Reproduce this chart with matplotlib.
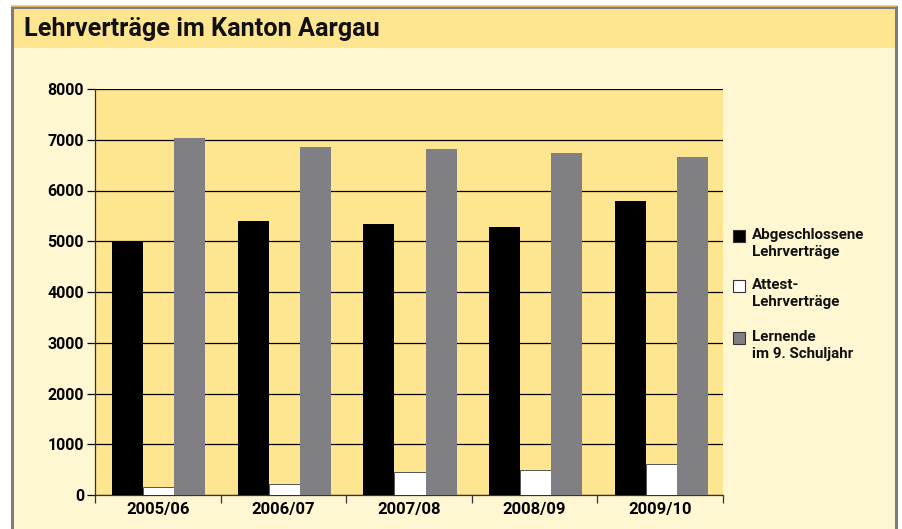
import matplotlib.pyplot as plt
import matplotlib.patches as mpatches
import numpy as np

plt.rcParams['font.family'] = ['Roboto', 'DejaVu Sans']
plt.rcParams['font.weight'] = 'bold'

# data
jahre = ["2005/06", "2006/07", "2007/08", "2008/09", "2009/10"]
abgeschlossen = [5000, 5400, 5340, 5280, 5790]
attest = [150, 210, 450, 490, 610]
lernende = [7030, 6860, 6820, 6740, 6660]

serien_namen = ["Abgeschlossene\nLehrverträge", "Attest-\nLehrverträge", "Lernende\nim 9. Schuljahr"]
farben = ["#000000", "#ffffff", "#808084"]

W, H = 902, 529
fig = plt.figure(figsize=(W / 100, H / 100), dpi=100)
fig.patch.set_facecolor("white")

def px(x, y, w, h):
    # pixel box (top-left origin) -> figure fraction
    return (x / W, 1 - (y + h) / H, w / W, h / H)

# frame: light background, yellow title band, grey border
fx, fy, fw, fh = px(12, 7, 884, 530)
fig.patches.append(mpatches.Rectangle((fx, fy), fw, fh, transform=fig.transFigure,
                                      facecolor="#fff6d2", edgecolor="none", zorder=0))
bx, by, bw, bh = px(12, 7, 884, 41)
fig.patches.append(mpatches.Rectangle((bx, by), bw, bh, transform=fig.transFigure,
                                      facecolor="#fee590", edgecolor="none", zorder=0))
fig.patches.append(mpatches.Rectangle((fx, fy), fw, fh, transform=fig.transFigure,
                                      facecolor="none", edgecolor="#7d7d7d", linewidth=2.2, zorder=1))
fig.add_artist(plt.Line2D([12 / W, 896 / W], [1 - 5.5 / H, 1 - 5.5 / H], transform=fig.transFigure,
                          color="#f3c35a", linewidth=1.2))

fig.text(24 / W, 1 - 29 / H, "Lehrverträge im Kanton Aargau", fontsize=18.2,
         fontweight="bold", va="center", ha="left", color="#111111", zorder=3)

ax = fig.add_axes(px(95, 89, 628, 406))
ax.set_zorder(2)
ax.set_facecolor("#fee690")

x = np.arange(len(jahre)) + 0.008
bw_ = 0.247
ax.bar(x - bw_, abgeschlossen, bw_, color=farben[0], zorder=3)
ax.bar(x, attest, bw_, color=farben[1], edgecolor="#555555", linewidth=0.7, zorder=3)
ax.bar(x + bw_, lernende, bw_, color=farben[2], zorder=3)

ax.set_xlim(-0.5, len(jahre) - 0.5)
ax.set_ylim(0, 8000)
ax.set_yticks(range(0, 8001, 1000))
ax.yaxis.grid(True, color="#000000", linewidth=0.9, zorder=1)
ax.set_axisbelow(True)

ax.set_xticks(np.arange(len(jahre)))
ax.set_xticklabels(jahre, fontsize=12, fontweight="bold")
ax.set_xticks(np.arange(len(jahre) + 1) - 0.5, minor=True)
ax.tick_params(axis="x", which="major", length=0, pad=5)
ax.tick_params(axis="x", which="minor", length=6, width=0.9, direction="out", color="#333333")
ax.tick_params(axis="y", length=6, width=0.9, direction="out", labelsize=11.5, pad=2)
for lbl in ax.get_yticklabels():
    lbl.set_fontweight("bold")

for s in ["top", "right"]:
    ax.spines[s].set_visible(False)
ax.spines["left"].set_color("#333333")
ax.spines["bottom"].set_color("#333333")
ax.spines["left"].set_linewidth(0.9)
ax.spines["bottom"].set_linewidth(0.9)

# legend drawn by hand to match layout
leg_y = [230, 280, 332]
for name, col, y in zip(serien_namen, farben, leg_y):
    rx, ry, rw, rh = px(733, y, 12, 12)
    fig.patches.append(mpatches.Rectangle((rx, ry), rw, rh, transform=fig.transFigure,
                                          facecolor=col, edgecolor="#333333", linewidth=0.8, zorder=3))
    fig.text(752 / W, 1 - (y - 2) / H, name, fontsize=10.9, fontweight="bold",
             va="top", ha="left", linespacing=1.3, color="#111111", zorder=3)

fig.savefig("out.png", dpi=100)
